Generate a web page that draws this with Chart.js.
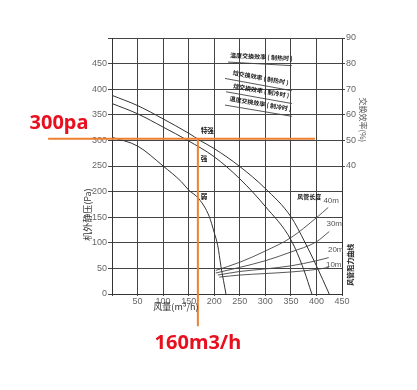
<!DOCTYPE html>
<html>
<head>
<meta charset="utf-8">
<title>风量-静压曲线</title>
<script src="https://cdn.jsdelivr.net/npm/chart.js@4/dist/chart.umd.min.js"></script>
<style>
html, body { margin: 0; padding: 0; background: #fff; }
#wrap { width: 417px; height: 390px; position: relative; }
</style>
</head>
<body>
<div id="wrap"><canvas id="fanChart"></canvas></div>
<script>
// 风量 - 机外静压 曲线 (特强 / 强 / 弱)
const turboFlow = [0, 50, 100, 150, 172, 200, 250, 300, 350, 378, 400, 425];
const turboPa   = [388, 368, 342, 314, 300, 284, 249, 206, 151, 100, 55, 0];
const highFlow  = [0, 50, 100, 148, 200, 250, 300, 350, 375, 391];
const highPa    = [372, 352, 326, 300, 268, 225, 171, 106, 48, 0];
const lowFlow   = [0, 50, 100, 136, 150, 170, 190, 200, 207, 213, 223];
const lowPa     = [306, 289, 250, 219, 203, 186, 152, 120, 94, 55, 0];
const speedNames = ['特强', '强', '弱'];

// 风管阻力曲线
const ductNames = ['40m', '30m', '20m', '10m'];
const ductFlow = [
    [203, 250, 300, 350, 400, 423],
    [203, 250, 300, 350, 400, 425],
    [207, 250, 300, 350, 400, 424],
    [210, 250, 300, 350, 400, 424]
];
const ductPa = [
    [46, 62, 84, 110, 149, 169],
    [41, 52, 65, 82, 102, 122],
    [37, 44, 49, 55, 65, 71],
    [33, 37, 40, 43, 48, 52]
];

// 交换效率 (%)
const effNames = ['温度交换效率 ( 制热时 )', '焓交换效率 ( 制热时 )', '焓交换效率 ( 制冷时 )', '温度交换效率 ( 制冷时 )'];
const effFromFlow = [227, 221, 223, 221];
const effToFlow   = [352, 352, 352, 352];
const effFrom = [80.6, 74.2, 69.0, 63.8];
const effTo   = [79.2, 69.4, 64.4, 59.4];

// 标注: 300pa / 160m3/h
const markPa = 303;
const markFlow = 168;
const markLineFlow = [-125, 397];
const markLinePa = [303, -63];
const markLabels = ['300pa', '160m3/h'];

const xTicks = [0, 50, 100, 150, 200, 250, 300, 350, 400, 450];
const paTicks = [0, 50, 100, 150, 200, 250, 300, 350, 400, 450];
const effTicks = [40, 50, 60, 70, 80, 90];

const toXY = (xs, ys) => xs.map((v, i) => ({ x: v, y: ys[i] }));

const ORANGE = '#ee7f33';
const RED = '#e8101e';
const INK = '#333';

const curve = (data, extra) => Object.assign({
    data,
    showLine: true,
    borderColor: INK,
    borderWidth: 1,
    pointRadius: 0,
    cubicInterpolationMode: 'monotone',
    clip: false
}, extra || {});

const datasets = [
    curve(toXY(markLineFlow, [markPa, markPa]), { borderColor: ORANGE, borderWidth: 2, cubicInterpolationMode: 'default' }),
    curve(toXY([markFlow, markFlow], markLinePa), { borderColor: ORANGE, borderWidth: 2, cubicInterpolationMode: 'default' }),
    curve(toXY(turboFlow, turboPa)),
    curve(toXY(highFlow, highPa)),
    curve(toXY(lowFlow, lowPa))
];
ductFlow.forEach((xs, i) => datasets.push(curve(toXY(xs, ductPa[i]), { borderColor: '#444', borderWidth: 0.9 })));
effNames.forEach((_, i) => datasets.push(curve(
    toXY([effFromFlow[i], effToFlow[i]], [effFrom[i], effTo[i]]),
    { yAxisID: 'y2', borderColor: '#444', borderWidth: 0.9 }
)));

function drawText(ctx, text, x, y, font, color, angle, align, baseline) {
    ctx.save();
    ctx.translate(x, y);
    if (angle) ctx.rotate(angle);
    ctx.font = font;
    ctx.fillStyle = color;
    ctx.textAlign = align || 'center';
    ctx.textBaseline = baseline || 'middle';
    ctx.fillText(text, 0, 0);
    ctx.restore();
}

const textLayer = {
    id: 'textLayer',
    afterDatasetsDraw(chart) {
        const { ctx, chartArea } = chart;
        const { x, y, y2 } = chart.scales;
        const cjk = '"Noto Sans CJK SC", "Noto Sans", sans-serif';

        // 轴标题
        drawText(ctx, '机外静压(Pa)', chartArea.left - 24, y.getPixelForValue(155), '9px ' + cjk, INK, -Math.PI / 2);
        drawText(ctx, '风量(m³/h)', x.getPixelForValue(125), chartArea.bottom + 13, '9px ' + cjk, INK);
        drawText(ctx, '交换效率(%)', chartArea.right + 21, y2.getPixelForValue(58), '8px ' + cjk, '#555', Math.PI / 2);
        drawText(ctx, '风管阻力曲线', chartArea.right + 8, y.getPixelForValue(57), 'bold 7px ' + cjk, '#222', -Math.PI / 2);

        // 风速档位
        const speedAt = [[markFlow, 320], [markFlow, 265], [markFlow, 190]];
        speedNames.forEach((name, i) => {
            drawText(ctx, name, x.getPixelForValue(speedAt[i][0]) + 3, y.getPixelForValue(speedAt[i][1]),
                'bold 6.5px ' + cjk, '#111', 0, 'left');
        });

        // 风管长度
        drawText(ctx, '风管长度', x.getPixelForValue(ductFlow[0][5]) - 19, y.getPixelForValue(ductPa[0][5]) - 11,
            'bold 6px ' + cjk, '#111');
        const ductOffset = [[3, -7], [5, -8], [7, -8], [5, -3]];
        ductNames.forEach((name, i) => {
            const n = ductFlow[i].length - 1;
            drawText(ctx, name, x.getPixelForValue(ductFlow[i][n]) + ductOffset[i][0],
                y.getPixelForValue(ductPa[i][n]) + ductOffset[i][1],
                '8px "Liberation Sans", sans-serif', '#555');
        });

        // 效率曲线标注
        effNames.forEach((name, i) => {
            const x1 = x.getPixelForValue(effFromFlow[i]), y1 = y2.getPixelForValue(effFrom[i]);
            const x2p = x.getPixelForValue(effToFlow[i]), y2p = y2.getPixelForValue(effTo[i]);
            const ang = Math.atan2(y2p - y1, x2p - x1);
            const mx = (x1 + x2p) / 2 + 1, my = (y1 + y2p) / 2;
            drawText(ctx, name, mx + 4 * Math.sin(ang), my - 4 * Math.cos(ang), 'bold 6px ' + cjk, '#111', ang, 'center', 'bottom');
        });

        // 红色标注
        drawText(ctx, markLabels[0], chartArea.left - 53, y.getPixelForValue(markPa) - 16,
            'bold 20px "Noto Sans", sans-serif', RED);
        drawText(ctx, markLabels[1], x.getPixelForValue(markFlow), chartArea.bottom + 49,
            'bold 20px "Noto Sans", sans-serif', RED);
    }
};

const tickFont = { family: '"Liberation Sans", sans-serif', size: 9 };

new Chart(document.getElementById('fanChart'), {
    type: 'scatter',
    data: { datasets },
    options: {
        responsive: true,
        maintainAspectRatio: false,
        animation: false,
        events: [],
        layout: { padding: { top: 38, left: 0, right: 0, bottom: 0 } },
        plugins: {
            legend: { display: false },
            tooltip: { enabled: false }
        },
        scales: {
            x: {
                type: 'linear',
                min: 0,
                max: 450,
                afterBuildTicks: s => { s.ticks = xTicks.map(v => ({ value: v })); },
                ticks: {
                    callback: v => v === 0 ? '' : v,
                    font: tickFont,
                    color: '#666',
                    padding: 0,
                    maxRotation: 0
                },
                grid: { color: '#444', lineWidth: 1, tickLength: 2 },
                border: { color: '#333', width: 1 },
                afterFit: s => { s.height = 96; }
            },
            y: {
                type: 'linear',
                position: 'left',
                min: 0,
                max: 500,
                afterBuildTicks: s => { s.ticks = paTicks.concat([500]).map(v => ({ value: v })); },
                ticks: {
                    callback: v => v === 500 ? '' : v,
                    font: tickFont,
                    color: '#666',
                    padding: 1
                },
                grid: { color: '#444', lineWidth: 1, tickLength: 4 },
                border: { color: '#333', width: 1 },
                afterFit: s => { s.width = 112; }
            },
            y2: {
                type: 'linear',
                position: 'right',
                min: -10,
                max: 90,
                afterBuildTicks: s => { s.ticks = effTicks.map(v => ({ value: v })); },
                ticks: {
                    font: tickFont,
                    color: '#666',
                    padding: 1
                },
                grid: { drawOnChartArea: false, color: '#444', tickLength: 3 },
                border: { color: '#333', width: 1 },
                afterFit: s => { s.width = 75; }
            }
        }
    },
    plugins: [textLayer]
});
</script>
</body>
</html>
